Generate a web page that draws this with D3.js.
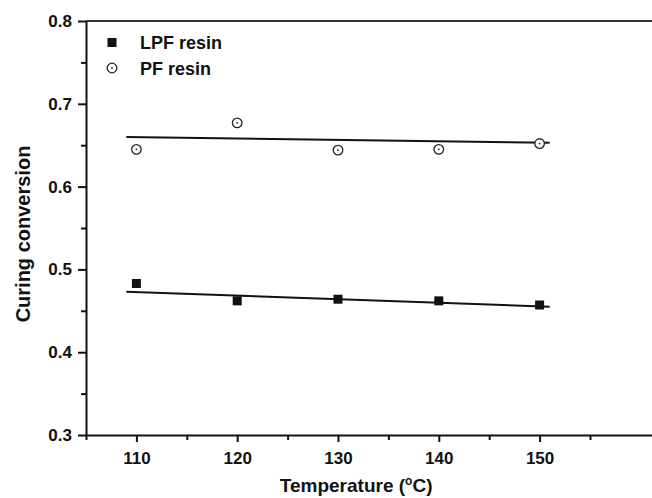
<!DOCTYPE html>
<html>
<head>
<meta charset="utf-8">
<script src="https://cdn.jsdelivr.net/npm/d3@7"></script>
<style>
    body { margin: 0; background: #fff; }
    svg text { font-family: "Liberation Sans", Arial, sans-serif; font-weight: bold; fill: #111; }
</style>
</head>
<body>
<div id="chart"></div>
<script>
// data
let temperatures = [110, 120, 130, 140, 150];
let lpfValues = [0.483, 0.462, 0.464, 0.462, 0.457];
let pfValues = [0.645, 0.677, 0.644, 0.645, 0.652];
// fitted lines, end points as drawn
let lpfFit = [[109, 0.473], [151, 0.455]];
let pfFit = [[109, 0.660], [151, 0.653]];
let xTicks = [110, 120, 130, 140, 150];
let xMinorTicks = [105, 115, 125, 135, 145, 155];
let yTicks = [0.3, 0.4, 0.5, 0.6, 0.7, 0.8];
let yMinorTicks = [0.35, 0.45, 0.55, 0.65, 0.75];

let width = 652, height = 498;
let plotLeft = 86, plotTop = 21, plotBottom = 435;

let svg = d3.select("#chart").append("svg")
    .attr("width", width)
    .attr("height", height);

let xScale = d3.scaleLinear().domain([105, 110]).range([plotLeft, 136.4]);
xScale.domain([105, xScale.invert(width)]).range([plotLeft, width]);
let yScale = d3.scaleLinear().domain([0.3, 0.8]).range([plotBottom, plotTop]);

// top frame line
svg.append("line")
    .attr("x1", plotLeft).attr("x2", width)
    .attr("y1", plotTop).attr("y2", plotTop)
    .attr("stroke", "#333").attr("stroke-width", 2);

// x axis
let xAxis = svg.append("g")
    .attr("transform", "translate(0," + plotBottom + ")")
    .call(d3.axisBottom(xScale).tickValues(xTicks).tickSize(7).tickPadding(10).tickSizeOuter(0));
xAxis.select(".domain").attr("stroke", "#111").attr("stroke-width", 2);
xAxis.selectAll(".tick line").attr("stroke", "#111").attr("stroke-width", 2);
xAxis.selectAll(".tick text").style("font-size", "17px");

svg.append("g")
    .attr("transform", "translate(0," + plotBottom + ")")
    .call(d3.axisBottom(xScale).tickValues(xMinorTicks).tickSize(5).tickFormat("").tickSizeOuter(0))
    .call(g => g.select(".domain").remove())
    .selectAll(".tick line").attr("stroke", "#111").attr("stroke-width", 2);

// y axis
let yAxis = svg.append("g")
    .attr("transform", "translate(" + plotLeft + ",0)")
    .call(d3.axisLeft(yScale).tickValues(yTicks).tickSize(8).tickPadding(6).tickSizeOuter(0)
        .tickFormat(d3.format(".1f")));
yAxis.select(".domain").attr("stroke", "#111").attr("stroke-width", 2);
yAxis.selectAll(".tick line").attr("stroke", "#111").attr("stroke-width", 2);
yAxis.selectAll(".tick text").style("font-size", "17px");

svg.append("g")
    .attr("transform", "translate(" + plotLeft + ",0)")
    .call(d3.axisLeft(yScale).tickValues(yMinorTicks).tickSize(5).tickFormat("").tickSizeOuter(0))
    .call(g => g.select(".domain").remove())
    .selectAll(".tick line").attr("stroke", "#111").attr("stroke-width", 2);

// axis titles
svg.append("text")
    .attr("x", xScale(131.8))
    .attr("y", 492)
    .attr("text-anchor", "middle")
    .style("font-size", "19px")
    .html("Temperature (<tspan dy='-7' font-size='12px'>o</tspan><tspan dy='7'>C)</tspan>");

svg.append("text")
    .attr("transform", "translate(30," + ((plotTop + plotBottom) / 2 + 6) + ") rotate(-90)")
    .attr("text-anchor", "middle")
    .style("font-size", "20px")
    .text("Curing conversion");

// fit lines
let line = d3.line()
    .x(d => xScale(d[0]))
    .y(d => yScale(d[1]));

[lpfFit, pfFit].forEach(function(fit){
    svg.append("path")
        .datum(fit)
        .attr("d", line)
        .attr("fill", "none")
        .attr("stroke", "#111")
        .attr("stroke-width", 2);
});

// LPF squares
svg.selectAll(".lpf")
    .data(temperatures)
    .enter().append("rect")
    .attr("class", "lpf")
    .attr("x", (d) => xScale(d) - 4.5)
    .attr("y", (d, i) => yScale(lpfValues[i]) - 4.5)
    .attr("width", 9).attr("height", 9)
    .attr("fill", "#111");

// PF circles
let pf = svg.selectAll(".pf")
    .data(temperatures)
    .enter().append("g")
    .attr("class", "pf")
    .attr("transform", (d, i) => "translate(" + xScale(d) + "," + yScale(pfValues[i]) + ")");
pf.append("circle").attr("r", 4.8).attr("fill", "#fff").attr("stroke", "#222").attr("stroke-width", 1.3);
pf.append("circle").attr("r", 0.9).attr("fill", "#222");

// legend
let legend = svg.append("g").attr("transform", "translate(112,0)");
legend.append("rect").attr("x", -4.5).attr("y", 38).attr("width", 9).attr("height", 9).attr("fill", "#111");
legend.append("text").attr("x", 28).attr("y", 49).style("font-size", "18px").text("LPF resin");
legend.append("circle").attr("cx", 0).attr("cy", 68).attr("r", 4.8).attr("fill", "#fff").attr("stroke", "#222").attr("stroke-width", 1.3);
legend.append("circle").attr("cx", 0).attr("cy", 68).attr("r", 0.9).attr("fill", "#222");
legend.append("text").attr("x", 28).attr("y", 75).style("font-size", "18px").text("PF resin");
</script>
</body>
</html>
